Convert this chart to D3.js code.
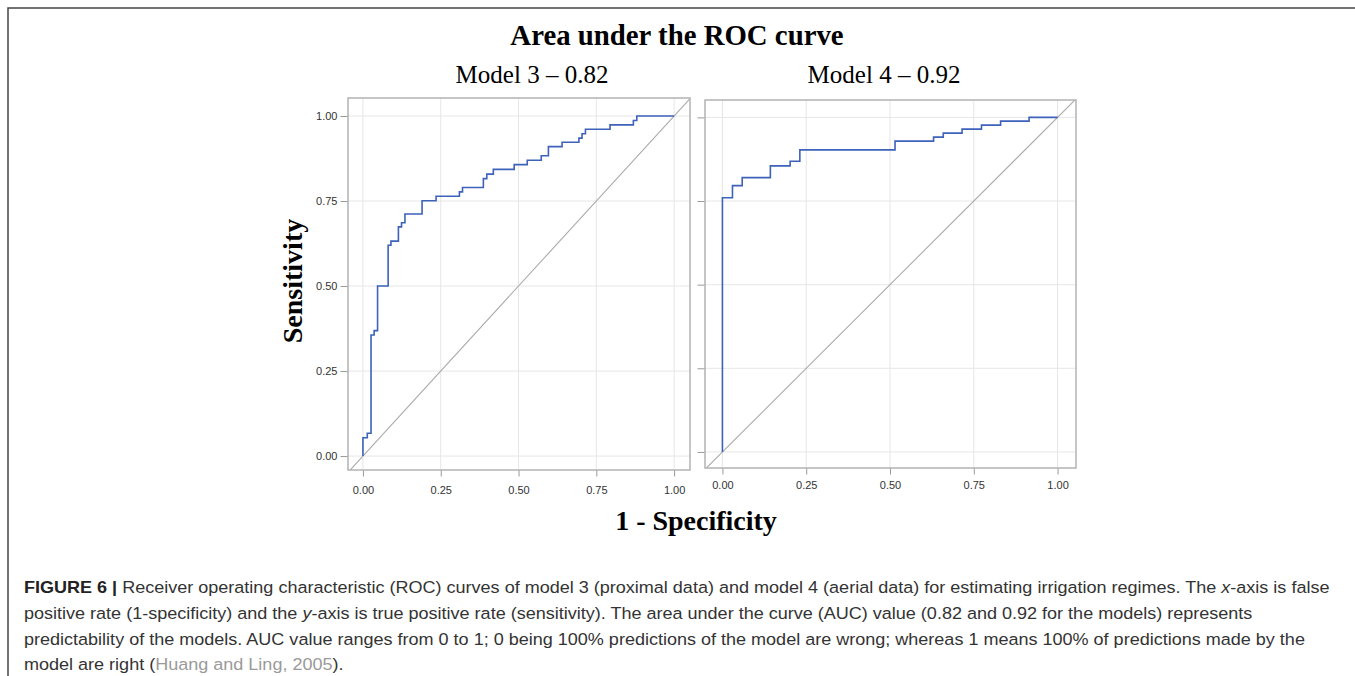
<!DOCTYPE html>
<html>
<head>
<meta charset="utf-8">
<script src="https://cdn.jsdelivr.net/npm/d3@7"></script>
<style>
  body { margin: 0; background: #fff; }
  svg { display: block; }
  .tick text { font-family: "Liberation Sans", Arial, sans-serif; font-size: 11px; fill: #333; }
  .tick line { stroke: #999; }
</style>
</head>
<body>
<svg width="1355" height="676"></svg>
<script>
// ROC points: (false positive rate, true positive rate)
let fpr3 = [0, 0, 0.014, 0.026, 0.036, 0.047, 0.081, 0.09, 0.114, 0.124, 0.135, 0.19, 0.235, 0.31, 0.32,
            0.387, 0.398, 0.419, 0.486, 0.528, 0.573, 0.596, 0.64, 0.694, 0.704, 0.715, 0.794, 0.869, 0.88, 1.0];
let tpr3 = [0, 0.054, 0.067, 0.356, 0.369, 0.50, 0.62, 0.632, 0.674, 0.686, 0.712, 0.751, 0.764, 0.777, 0.79,
            0.816, 0.829, 0.843, 0.857, 0.87, 0.883, 0.91, 0.923, 0.935, 0.948, 0.961, 0.974, 0.987, 1.0, 1.0];
let fpr4 = [0, 0, 0.03, 0.059, 0.143, 0.202, 0.231, 0.515, 0.63, 0.659, 0.715, 0.773, 0.83, 0.915, 1.0];
let tpr4 = [0, 0.76, 0.796, 0.82, 0.855, 0.869, 0.903, 0.929, 0.941, 0.953, 0.965, 0.977, 0.989, 1.0, 1.0];
let ticks = [0, 0.25, 0.5, 0.75, 1];
let panelTitles = ["Model 3 \u2013 0.82", "Model 4 \u2013 0.92"];

let svg = d3.select("svg");
let serif = "'Liberation Serif', 'Times New Roman', serif";
let sans = "'Liberation Sans', Arial, sans-serif";

// figure border (top + left)
svg.append("path")
    .attr("d", "M8,676V8H1355")
    .attr("fill", "none")
    .attr("stroke", "#444")
    .attr("stroke-width", 1.5);

svg.append("text")
    .attr("x", 677).attr("y", 45)
    .attr("text-anchor", "middle")
    .attr("font-family", serif).attr("font-size", 28.8).attr("font-weight", "bold")
    .text("Area under the ROC curve");

let fmt = d3.format(".2f");

function panel(opts) {
  let x = d3.scaleLinear().domain(opts.xd).range([opts.left, opts.right]);
  let y = d3.scaleLinear().domain(opts.yd).range([opts.bottom, opts.top]);
  let g = svg.append("g");
  let clipId = "clip" + opts.id;

  g.append("clipPath").attr("id", clipId)
    .append("rect")
    .attr("x", opts.left).attr("y", opts.top)
    .attr("width", opts.right - opts.left).attr("height", opts.bottom - opts.top);

  // grid
  g.selectAll(".gx").data(ticks).enter().append("line")
    .attr("x1", d => x(d)).attr("x2", d => x(d))
    .attr("y1", opts.top).attr("y2", opts.bottom)
    .attr("stroke", "#e6e6e6");
  g.selectAll(".gy").data(ticks).enter().append("line")
    .attr("y1", d => y(d)).attr("y2", d => y(d))
    .attr("x1", opts.left).attr("x2", opts.right)
    .attr("stroke", "#e6e6e6");

  // diagonal reference line
  let lo = Math.min(opts.xd[0], opts.yd[0]), hi = Math.max(opts.xd[1], opts.yd[1]);
  g.append("line")
    .attr("clip-path", "url(#" + clipId + ")")
    .attr("x1", x(lo)).attr("y1", y(lo))
    .attr("x2", x(hi)).attr("y2", y(hi))
    .attr("stroke", "#ababab").attr("stroke-width", 1.1);

  // ROC curve
  let pts = d3.zip(opts.fpr, opts.tpr);
  let line = d3.line()
    .x(d => x(d[0]))
    .y(d => y(d[1]))
    .curve(d3.curveStepAfter);
  g.append("path")
    .datum(pts)
    .attr("d", line)
    .attr("fill", "none")
    .attr("stroke", "#3d62ba")
    .attr("stroke-width", 1.6);

  // frame
  g.append("rect")
    .attr("x", opts.left).attr("y", opts.top)
    .attr("width", opts.right - opts.left).attr("height", opts.bottom - opts.top)
    .attr("fill", "none").attr("stroke", "#b3b3b3").attr("stroke-width", 1.5);

  // axes
  let ya = d3.axisLeft(y).tickValues(ticks).tickSize(7).tickPadding(3)
    .tickFormat(opts.yLabels ? fmt : "");
  g.append("g").attr("transform", "translate(" + (opts.left - 0.5) + ",0)")
    .call(ya).call(s => s.select(".domain").remove());

  let xa = d3.axisBottom(x).tickValues(ticks).tickSize(6).tickPadding(opts.xPad).tickFormat(fmt);
  g.append("g").attr("transform", "translate(0," + (opts.bottom + 0.5) + ")")
    .call(xa).call(s => s.select(".domain").remove());

  svg.append("text")
    .attr("x", opts.titleX).attr("y", 83)
    .attr("text-anchor", "middle")
    .attr("font-family", serif).attr("font-size", 25)
    .text(opts.title);
}

panel({id: 3, fpr: fpr3, tpr: tpr3, title: panelTitles[0], titleX: 532,
  xd: [-0.048, 1.051], yd: [-0.041, 1.053],
  left: 348, right: 690, top: 98, bottom: 470, yLabels: true, xPad: 10});

panel({id: 4, fpr: fpr4, tpr: tpr4, title: panelTitles[1], titleX: 884,
  xd: [-0.052, 1.055], yd: [-0.048, 1.052],
  left: 705, right: 1076, top: 100, bottom: 468, yLabels: false, xPad: 7});

svg.append("text")
    .attr("transform", "translate(302,281) rotate(-90)")
    .attr("text-anchor", "middle")
    .attr("font-family", serif).attr("font-size", 28).attr("font-weight", "bold")
    .text("Sensitivity");

svg.append("text")
    .attr("x", 696).attr("y", 530)
    .attr("text-anchor", "middle")
    .attr("font-family", serif).attr("font-size", 28).attr("font-weight", "bold")
    .text("1 - Specificity");

// caption, line by line; one horizontal squeeze (taken from the first line) for all lines
let caption = [
  {y: 593, parts: [
    {t: "FIGURE 6 | ", b: true},
    {t: "Receiver operating characteristic (ROC) curves of model 3 (proximal data) and model 4 (aerial data) for estimating irrigation regimes. The "},
    {t: "x", i: true}, {t: "-axis is false"}]},
  {y: 619, parts: [
    {t: "positive rate (1-specificity) and the "}, {t: "y", i: true},
    {t: "-axis is true positive rate (sensitivity). The area under the curve (AUC) value (0.82 and 0.92 for the models) represents"}]},
  {y: 645, parts: [
    {t: "predictability of the models. AUC value ranges from 0 to 1; 0 being 100% predictions of the model are wrong; whereas 1 means 100% of predictions made by the"}]},
  {y: 670, parts: [
    {t: "model are right ("}, {t: "Huang and Ling, 2005", c: "#9a9a9a"}, {t: ")."}]}
];

let sx = null;
caption.forEach(function(ln) {
  let t = svg.append("text")
    .attr("x", 0).attr("y", 0)
    .attr("font-family", sans).attr("font-size", 16.5).attr("fill", "#333");
  ln.parts.forEach(function(p) {
    t.append("tspan")
      .attr("font-weight", p.b ? "bold" : null)
      .attr("font-style", p.i ? "italic" : null)
      .attr("fill", p.c || (p.b ? "#222" : null))
      .text(p.t);
  });
  if (sx === null) sx = 1307 / t.node().getComputedTextLength();
  t.attr("transform", "translate(24," + ln.y + ") scale(" + sx + ",1)");
});
</script>
</body>
</html>
